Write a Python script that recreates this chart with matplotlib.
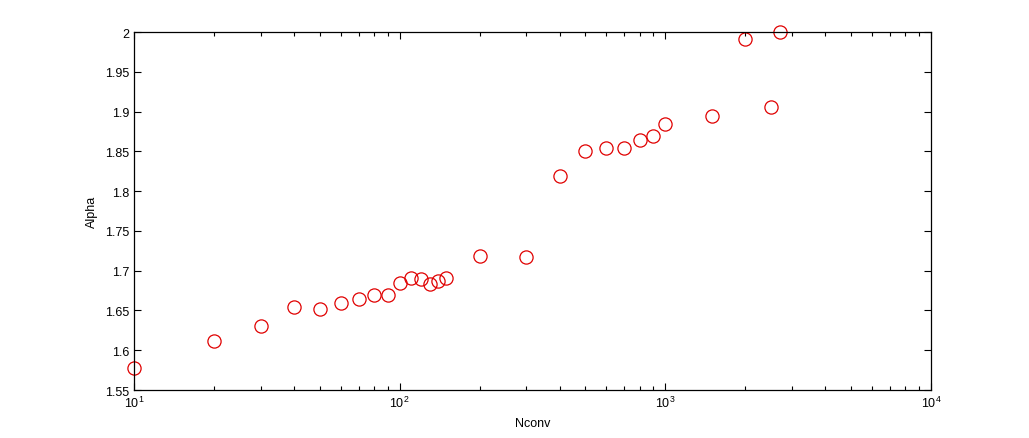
import numpy as np
import matplotlib
matplotlib.use("Agg")
import matplotlib.pyplot as plt

# data
nconv = [10, 20, 30, 40, 50, 60, 70, 80, 90, 100, 110, 120, 130, 140, 150,
         200, 300, 400, 500, 600, 700, 800, 900, 1000, 1500, 2000, 2500, 2700]
alpha = [1.578, 1.611, 1.630, 1.654, 1.652, 1.660, 1.665, 1.669, 1.669, 1.685,
         1.691, 1.689, 1.683, 1.687, 1.691, 1.719, 1.717, 1.819, 1.851, 1.854,
         1.854, 1.864, 1.869, 1.885, 1.894, 1.991, 1.906, 2.000]
yticks = [1.55, 1.6, 1.65, 1.7, 1.75, 1.8, 1.85, 1.9, 1.95, 2]
ytick_labels = ["1.55", "1.6", "1.65", "1.7", "1.75", "1.8", "1.85", "1.9", "1.95", "2"]

plt.rcParams["font.family"] = ["Liberation Sans", "DejaVu Sans"]
plt.rcParams["mathtext.fontset"] = "custom"
plt.rcParams["mathtext.rm"] = "Liberation Sans"

fig = plt.figure(figsize=(10.29, 4.39), dpi=100)
ax = fig.add_axes([0.1302, 0.1093, 0.7746, 0.8155])

ax.plot(nconv, alpha, "o", mfc="none", mec="#e00000", ms=9.5, mew=0.9, clip_on=False)

ax.set_xscale("log")
ax.set_xlim(10, 1e4)
ax.set_ylim(1.55, 2.0)
ax.set_yticks(yticks)
ax.set_yticklabels(ytick_labels)

ax.tick_params(which="both", direction="in", top=True, right=True, labelsize=9)
ax.tick_params(which="major", length=5, width=0.8)
ax.tick_params(which="minor", length=3, width=0.8)
for s in ax.spines.values():
    s.set_linewidth(0.9)

ax.set_xlabel("Nconv", fontsize=9, labelpad=5)
ax.set_ylabel("Alpha", fontsize=9, labelpad=5)

fig.savefig("out.png", dpi=100)
